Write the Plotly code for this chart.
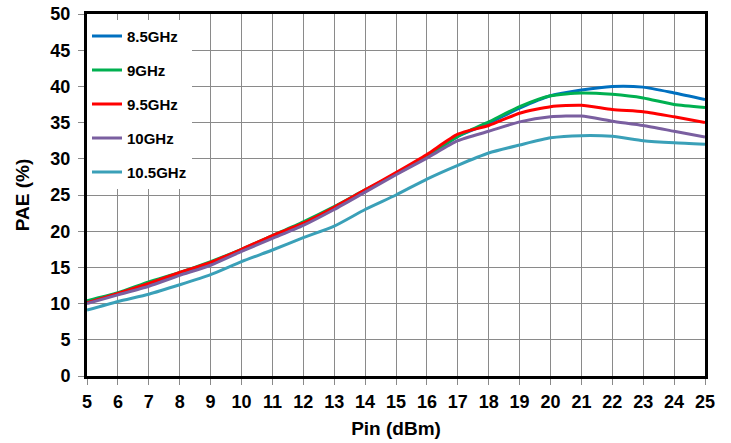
import plotly.graph_objects as go

pin = [5, 6, 7, 8, 9, 10, 11, 12, 13, 14, 15, 16, 17, 18, 19, 20, 21, 22, 23, 24, 25]
series_names = ["8.5GHz", "9GHz", "9.5GHz", "10GHz", "10.5GHz"]
pae_85 = [10.3, 11.4, 12.6, 14.1, 15.5, 17.3, 19.2, 21.1, 23.3, 25.6, 28.0, 30.3, 33.1, 34.9, 37.0, 38.7, 39.5, 40.0, 39.9, 39.1, 38.2]
pae_90 = [10.4, 11.5, 13.0, 14.3, 15.8, 17.5, 19.4, 21.3, 23.4, 25.7, 27.9, 30.3, 33.1, 35.1, 37.2, 38.7, 39.1, 38.9, 38.4, 37.5, 37.1]
pae_95 = [10.1, 11.4, 12.8, 14.3, 15.7, 17.5, 19.4, 21.1, 23.3, 25.7, 28.1, 30.6, 33.4, 34.6, 36.3, 37.2, 37.4, 36.8, 36.5, 35.8, 35.0]
pae_100 = [10.0, 11.2, 12.4, 13.9, 15.3, 17.2, 19.0, 20.8, 23.0, 25.4, 27.8, 30.1, 32.5, 33.8, 35.1, 35.8, 35.9, 35.2, 34.6, 33.8, 33.0]
pae_105 = [9.1, 10.3, 11.3, 12.6, 14.0, 15.8, 17.4, 19.1, 20.7, 23.0, 25.0, 27.2, 29.1, 30.8, 31.9, 32.9, 33.2, 33.1, 32.5, 32.2, 32.0]
colors = ["#0070C0", "#00B050", "#FF0000", "#7A5FA0", "#3AA0B8"]
x_ticks = list(range(5, 26))
y_ticks = list(range(0, 51, 5))

fig = go.Figure()
for name, vals, c in zip(series_names, [pae_85, pae_90, pae_95, pae_100, pae_105], colors):
    fig.add_trace(go.Scatter(x=pin, y=vals, mode="lines", name=name, legendgroup=name,
                             line=dict(color=c, width=3, shape="spline", smoothing=0.6)))

font_family = "Liberation Sans, Arial, sans-serif"
fig.update_layout(
    width=731, height=443,
    margin=dict(l=87, r=26, t=14, b=67),
    paper_bgcolor="white", plot_bgcolor="white",
    font=dict(family=font_family, color="black"),
    showlegend=True,
    legend=dict(x=0.0, y=0.984, xanchor="left", yanchor="top",
                bgcolor="white", borderwidth=0, itemwidth=30,
                tracegroupgap=11.5,
                font=dict(family=font_family, size=15, weight="bold", color="black")),
    xaxis=dict(range=[5, 25], tickvals=x_ticks, ticktext=[str(v) for v in x_ticks],
               automargin=False,
               showgrid=True, gridcolor="#8a8a8a", gridwidth=1,
               showline=True, linecolor="black", linewidth=3, mirror=True,
               ticks="outside", ticklen=6, tickcolor="#8a8a8a", tickwidth=1,
               ticklabelstandoff=1,
               zeroline=False,
               tickfont=dict(size=18, weight="bold"),
               title=dict(text="Pin (dBm)", font=dict(size=19, weight="bold"), standoff=12)),
    yaxis=dict(range=[0, 50], tickvals=y_ticks, ticktext=[str(v) for v in y_ticks],
               automargin=False,
               showgrid=True, gridcolor="#8a8a8a", gridwidth=1,
               showline=True, linecolor="black", linewidth=3, mirror=True,
               ticks="outside", ticklen=6, tickcolor="#8a8a8a", tickwidth=1,
               ticklabelstandoff=4,
               zeroline=False,
               tickfont=dict(size=18, weight="bold"),
               title=dict(text="PAE (%)", font=dict(size=19, weight="bold"), standoff=16)),
)

fig.write_html("out.html")
